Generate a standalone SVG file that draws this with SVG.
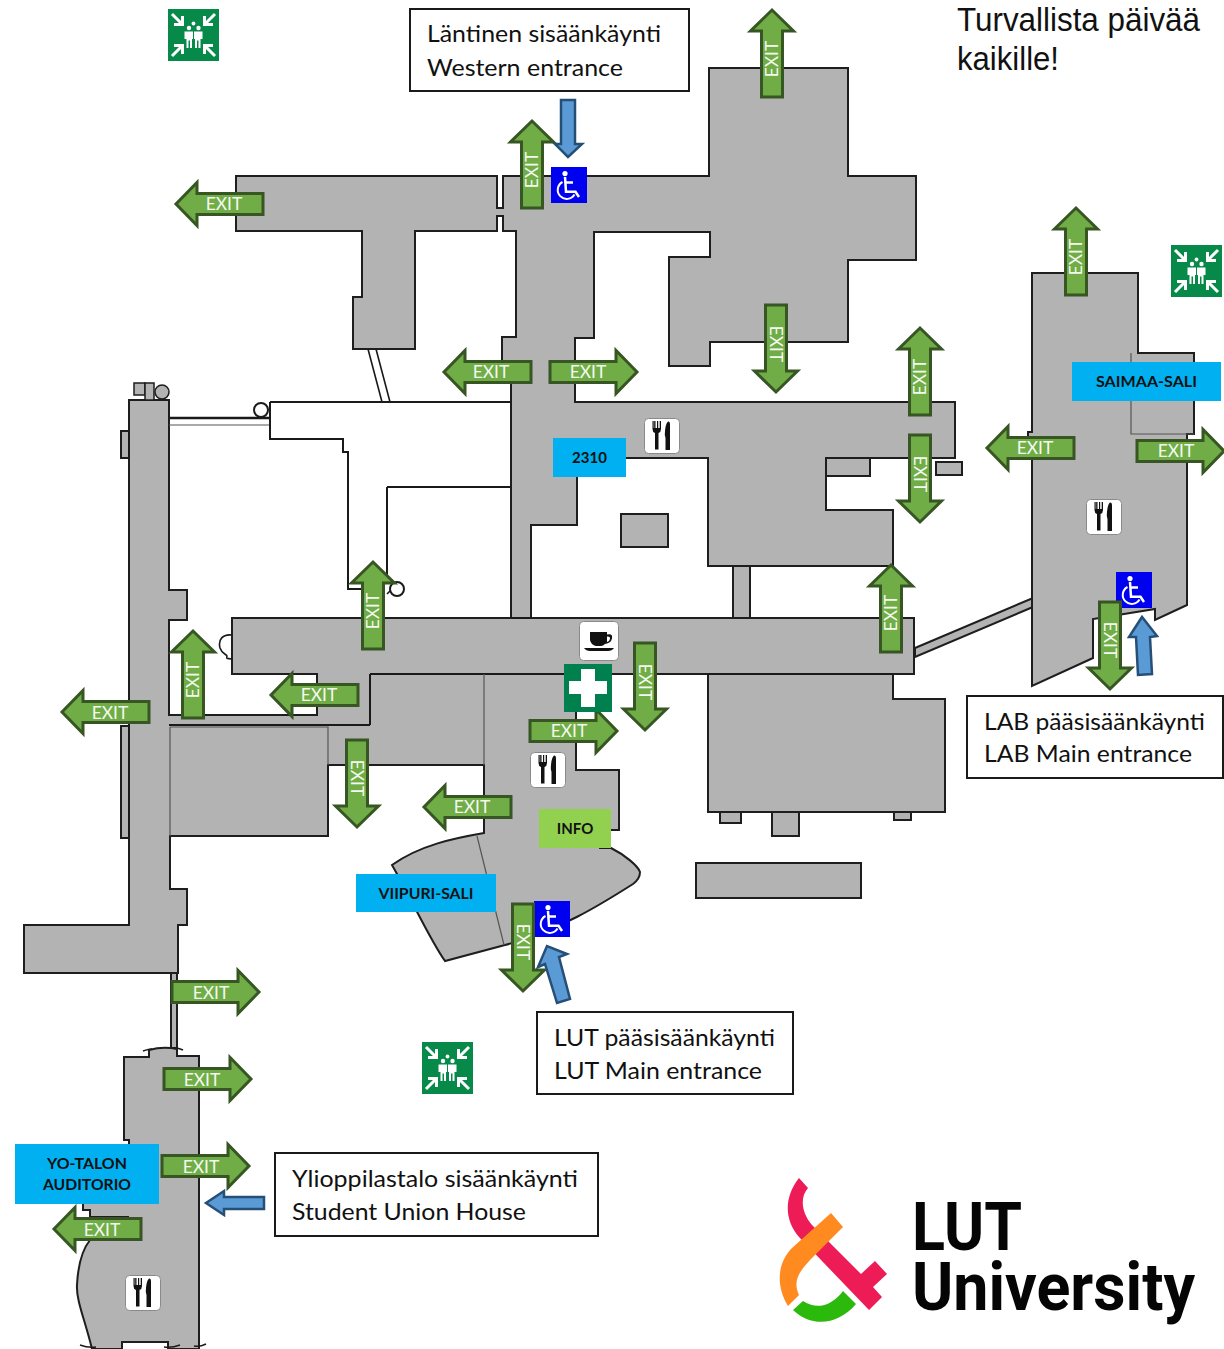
<svg xmlns="http://www.w3.org/2000/svg" width="1224" height="1349" viewBox="0 0 1224 1349">
<style>
.fl{fill:#b3b3b3;stroke:#1e1e1e;stroke-width:2;stroke-linejoin:miter}
.wall{fill:none;stroke:#1a1a1a;stroke-width:2}
.fine{fill:none;stroke:#1a1a1a;stroke-width:1.6}
.thin{fill:none;stroke:#555;stroke-width:1.2}
.ex{fill:#70ad47;stroke:#375623;stroke-width:3}
.ext{font-family:"Lato","Open Sans",sans-serif;font-size:17.5px;fill:#f4f9ef;text-anchor:middle}
.bl{fill:#5b9bd5;stroke:#264f78;stroke-width:2.5}
.box{fill:#fff;stroke:#1a1a1a;stroke-width:2}
.bt{font-family:"Lato","Open Sans",sans-serif;font-size:24px;fill:#111}
.lab{font-family:"Lato","Open Sans",sans-serif;font-weight:700;font-size:15px;fill:#111;text-anchor:middle}
.ttl{font-family:"Liberation Sans",Arial,sans-serif;font-size:33px;fill:#111}
.lg{font-family:"Roboto","Liberation Sans",sans-serif;font-weight:700;fill:#050505}
</style>
<defs>
<path id="ga" d="M0,-10.5H66V-21.5L87,0L66,21.5V10.5H0Z"/>
<g id="wc">
<rect width="36" height="36" fill="#0000f0"/>
<circle cx="14" cy="6.6" r="2.6" fill="#fff"/>
<path d="M14,10L15,24.8H24.5L28,30M14.5,15.5H22" fill="none" stroke="#fff" stroke-width="2.5"/>
<path d="M11.5,15A9,9 0 1 0 23.5,27.5" fill="none" stroke="#fff" stroke-width="2"/>
</g>
<g id="fk">
<rect x=".5" y=".5" width="35" height="35" rx="4" fill="#fff" stroke="#8a8a8a" stroke-width="1"/>
<path d="M8.5,3V11Q8.5,14 11,15V31.5H14.5V15Q17,14 17,11V3H15.7V10H14.2V3H13V10H11.5V3H10.2V10H9.7V3Z" fill="#111"/>
<path d="M21.5,32V20L20.8,17Q21,6 24,3.5Q26,3 26,6V32Z" fill="#111"/>
</g>
<g id="as">
<rect width="51" height="52" fill="#078a49"/>
<g fill="none" stroke="#fff" stroke-width="3">
<g id="aa"><path d="M4,5L14,15M6,15.5H14.5V7"/></g>
<use href="#aa" transform="translate(51,0) scale(-1,1)"/>
<use href="#aa" transform="translate(0,52) scale(1,-1)"/>
<use href="#aa" transform="translate(51,52) scale(-1,-1)"/>
</g>
<g fill="#fff">
<circle cx="25.5" cy="14.5" r="1.9"/><circle cx="21" cy="19" r="2.2"/><circle cx="30.5" cy="19" r="2.2"/>
<path d="M16.5,22.5H25V30H24V39H22V31.5H20.5V39H18.5V30H16.5Z"/>
<path d="M26,22.5H34.5V30H32.5V39H30.5V31.5H29V39H27V30H26Z"/>
</g>
</g>
</defs>
<rect width="1224" height="1349" fill="#fff"/>

<g id="floorplan">
<path class="fl" d="M129,400H169V590H187V620H169V715H317V674H232V618H511V362H502V337H516V231H503V216H497V231H415V349H353V297H362V231H236V176H497V208H503V176H709V68H848V176H916V260H848V342H710V366H669V257H710V232H594V338H575V402H955V458H826V510H893V566H708V458H577V525H531V618H914V674H893V699H945V812H708V674H576V770H619V830H600V848H611C625,855 638,866 640,872C640,878 637,881 633,884C600,905 560,930 505,945L445,961C430,940 412,900 392,865C420,845 455,838 484,833V765H328V836H170V889H187V925H178V973H24V925H129V838H121V726H129V458H121V431H129Z"/>
<rect class="fl" x="733" y="566" width="17" height="52"/>
<path class="fl" d="M915,648L1033,598V607L915,657Z"/>
<rect class="fl" x="826" y="458" width="44" height="18"/>
<rect class="fl" x="621" y="514" width="47" height="33"/>
<rect class="fl" x="696" y="863" width="165" height="35"/>
<rect class="fl" x="720" y="812" width="21" height="11"/>
<rect class="fl" x="772" y="812" width="27" height="24"/>
<rect class="fl" x="894" y="812" width="17" height="8"/>
<rect class="fl" x="936" y="462" width="26" height="13"/>
<path class="fl" d="M1032,273H1138V353H1194V434H1187V605L1155,620V609L1093,619V658L1032,686V437H1028V432H1032Z"/>
<path class="thin" d="M1131,353V434H1194"/>
<rect class="fl" x="171" y="973" width="6" height="75"/>
<path class="fl" d="M124,1057H149V1050Q163,1046 177,1049V1056H199V1349H168V1342H122V1349H92C85,1320 76,1300 77,1285C78,1265 82,1250 90,1240L128,1240V1217H90V1210H83V1150H129V1140H124Z"/>
<path class="fine" d="M143,1051Q149,1049 152,1049M174,1048Q179,1048 183,1050M80,1345Q88,1348 96,1347M164,1347Q172,1348 180,1345M194,1346Q200,1347 206,1344"/>
<path class="wall" d="M512,618H531M370,674H576M708,674H893M370,674V725M169,725H370M129,431V458M129,726V838"/>
<path class="thin" d="M170,727H328V765M170,727V836M484,674V765M477,836L504,945"/>
<path class="wall" style="stroke-width:2.6" d="M169,418H270"/>
<path class="thin" d="M169,425H270"/>
<path class="wall" d="M270,402H511M270,402V439H343V452H348V589H373M387,487H511M387,487V580"/>
<path class="fine" d="M368,349L382,402M376,349L390,402"/>
<path class="fine" d="M232,635C222,634 218,640 220,648C222,654 226,654 227,656C226,660 228,658 232,659M387,594L391,590"/>
<circle class="wall" cx="261" cy="410" r="7"/>
<circle cx="397" cy="589" r="7" fill="#fff" stroke="#1a1a1a" stroke-width="2"/>
<rect class="fl" style="stroke-width:1.5" x="134" y="383" width="11" height="12"/>
<rect class="fl" style="stroke-width:1.5" x="145" y="383" width="9" height="17"/>
<circle class="fl" style="stroke-width:1.5" cx="162" cy="392" r="7"/>
</g>

<g id="signs">
<use id="assembly-1" href="#as" x="168" y="9"/>
<use id="assembly-2" href="#as" x="1171" y="245"/>
<use id="assembly-3" href="#as" x="422" y="1042"/>
<use id="wheelchair-1" href="#wc" x="551" y="167"/>
<use id="wheelchair-2" href="#wc" x="1116" y="572"/>
<use id="wheelchair-3" href="#wc" x="534" y="901"/>
<use id="food-1" href="#fk" x="644" y="418"/>
<use id="food-2" href="#fk" x="1086" y="499"/>
<use id="food-3" href="#fk" x="530" y="752"/>
<use id="food-4" href="#fk" x="125" y="1275"/>
<g id="coffee">
<rect x="579.5" y="621.5" width="39" height="39" rx="4" fill="#fff" stroke="#8a8a8a"/>
<path d="M590,632H607V634.5Q613,633 612,638.5Q611,643 605,644Q603,646 601,646H596Q591,645 590,640ZM607,636.5V642Q610,641 610,638Q610,636 607,636.5Z" fill="#111" fill-rule="evenodd"/>
<path d="M584,648H614Q612,651 608,651H590Q586,651 584,648Z" fill="#111"/>
</g>
</g>

<g id="labels">
<g id="lbl-2310"><rect x="553" y="438" width="73" height="39" fill="#00b0f0"/><text class="lab" x="589.5" y="463">2310</text></g>
<g id="lbl-saimaa"><rect x="1072" y="362" width="149" height="39" fill="#00b0f0"/><text class="lab" x="1146.5" y="387" textLength="101" lengthAdjust="spacingAndGlyphs">SAIMAA-SALI</text></g>
<g id="lbl-viipuri"><rect x="356" y="874" width="140" height="38" fill="#00b0f0"/><text class="lab" x="426" y="899" textLength="95" lengthAdjust="spacingAndGlyphs">VIIPURI-SALI</text></g>
<g id="lbl-yo"><rect x="15" y="1144" width="144" height="60" fill="#00b0f0"/><text class="lab" x="87" y="1169" textLength="80" lengthAdjust="spacingAndGlyphs">YO-TALON</text><text class="lab" x="87" y="1190" textLength="88" lengthAdjust="spacingAndGlyphs">AUDITORIO</text></g>
<g id="lbl-info"><rect x="539" y="809" width="72" height="39" fill="#92d050"/><text class="lab" x="575" y="834">INFO</text></g>
</g>

<g id="connectors">
<g class="exit"><use class="ex" href="#ga" transform="translate(263,204) rotate(180)"/><text class="ext" x="224" y="210">EXIT</text></g>
<g class="exit"><use class="ex" href="#ga" transform="translate(532,208) rotate(-90)"/><text class="ext" transform="translate(532,170) rotate(-90)" y="6">EXIT</text></g>
<g class="exit"><use class="ex" href="#ga" transform="translate(772,97) rotate(-90)"/><text class="ext" transform="translate(772,59) rotate(-90)" y="6">EXIT</text></g>
<g class="exit"><use class="ex" href="#ga" transform="translate(776,305) rotate(90)"/><text class="ext" transform="translate(776,344) rotate(90)" y="6">EXIT</text></g>
<g class="exit"><use class="ex" href="#ga" transform="translate(531,372) rotate(180)"/><text class="ext" x="491" y="378">EXIT</text></g>
<g class="exit"><use class="ex" href="#ga" transform="translate(550,372)"/><text class="ext" x="588" y="378">EXIT</text></g>
<g class="exit"><use class="ex" href="#ga" transform="translate(920,415) rotate(-90)"/><text class="ext" transform="translate(920,377) rotate(-90)" y="6">EXIT</text></g>
<g class="exit"><use class="ex" href="#ga" transform="translate(920,435) rotate(90)"/><text class="ext" transform="translate(920,474) rotate(90)" y="6">EXIT</text></g>
<g class="exit"><use class="ex" href="#ga" transform="translate(1076,295) rotate(-90)"/><text class="ext" transform="translate(1076,257) rotate(-90)" y="6">EXIT</text></g>
<g class="exit"><use class="ex" href="#ga" transform="translate(1074,448) rotate(180)"/><text class="ext" x="1035" y="454">EXIT</text></g>
<g class="exit"><use class="ex" href="#ga" transform="translate(1137,451)"/><text class="ext" x="1176" y="457">EXIT</text></g>
<g class="exit"><use class="ex" href="#ga" transform="translate(1110,602) rotate(90)"/><text class="ext" transform="translate(1110,640) rotate(90)" y="6">EXIT</text></g>
<g class="exit"><use class="ex" href="#ga" transform="translate(891,652) rotate(-90)"/><text class="ext" transform="translate(891,613) rotate(-90)" y="6">EXIT</text></g>
<g class="exit"><use class="ex" href="#ga" transform="translate(373,649) rotate(-90)"/><text class="ext" transform="translate(373,611) rotate(-90)" y="6">EXIT</text></g>
<g class="exit"><use class="ex" href="#ga" transform="translate(193,718) rotate(-90)"/><text class="ext" transform="translate(193,680) rotate(-90)" y="6">EXIT</text></g>
<g class="exit"><use class="ex" href="#ga" transform="translate(358,695) rotate(180)"/><text class="ext" x="319" y="701">EXIT</text></g>
<g class="exit"><use class="ex" href="#ga" transform="translate(149,712) rotate(180)"/><text class="ext" x="110" y="719">EXIT</text></g>
<g class="exit"><use class="ex" href="#ga" transform="translate(645,643) rotate(90)"/><text class="ext" transform="translate(645,682) rotate(90)" y="6">EXIT</text></g>
<g class="exit"><use class="ex" href="#ga" transform="translate(530,731)"/><text class="ext" x="569" y="737">EXIT</text></g>
<g class="exit"><use class="ex" href="#ga" transform="translate(357,740) rotate(90)"/><text class="ext" transform="translate(357,778) rotate(90)" y="6">EXIT</text></g>
<g class="exit"><use class="ex" href="#ga" transform="translate(511,807) rotate(180)"/><text class="ext" x="472" y="813">EXIT</text></g>
<g class="exit"><use class="ex" href="#ga" transform="translate(523,904) rotate(90)"/><text class="ext" transform="translate(523,942) rotate(90)" y="6">EXIT</text></g>
<g class="exit"><use class="ex" href="#ga" transform="translate(172,992)"/><text class="ext" x="211" y="999">EXIT</text></g>
<g class="exit"><use class="ex" href="#ga" transform="translate(164,1079)"/><text class="ext" x="202" y="1086">EXIT</text></g>
<g class="exit"><use class="ex" href="#ga" transform="translate(162,1166)"/><text class="ext" x="201" y="1173">EXIT</text></g>
<g class="exit"><use class="ex" href="#ga" transform="translate(141,1229) rotate(180)"/><text class="ext" x="102" y="1236">EXIT</text></g>
<g id="entrances">
<path class="bl" d="M561,100H575V144H582L568,157L555,144H561Z"/>
<path class="bl" d="M1138,675L1136,637H1129L1142,617L1157,636L1150,637L1152,674Z"/>
<path class="bl" d="M557,1003L545,964L538,967L547,946L567,954L559,957L570,999Z"/>
<path class="bl" d="M264,1197H224V1191L206,1203L224,1215V1209H264Z"/>
</g>
</g>

<g id="first-aid">
<rect x="564" y="664" width="48" height="48" fill="#00804f"/>
<path d="M581,669H595V681H607V694H595V707H581V694H569V681H581Z" fill="#fff"/>
</g>

<g id="text-boxes">
<g id="box-west"><rect class="box" x="410" y="9" width="279" height="82"/><text class="bt" x="427" y="42" textLength="234" lengthAdjust="spacingAndGlyphs">Läntinen sisäänkäynti</text><text class="bt" x="427" y="76" textLength="196" lengthAdjust="spacingAndGlyphs">Western entrance</text></g>
<g id="box-lab"><rect class="box" x="967" y="696" width="256" height="82"/><text class="bt" x="984" y="730" textLength="221" lengthAdjust="spacingAndGlyphs">LAB pääsisäänkäynti</text><text class="bt" x="984" y="762" textLength="208" lengthAdjust="spacingAndGlyphs">LAB Main entrance</text></g>
<g id="box-lut"><rect class="box" x="537" y="1012" width="256" height="82"/><text class="bt" x="554" y="1046" textLength="221" lengthAdjust="spacingAndGlyphs">LUT pääsisäänkäynti</text><text class="bt" x="554" y="1079" textLength="208" lengthAdjust="spacingAndGlyphs">LUT Main entrance</text></g>
<g id="box-yo"><rect class="box" x="275" y="1153" width="323" height="83"/><text class="bt" x="292" y="1187" textLength="286" lengthAdjust="spacingAndGlyphs">Ylioppilastalo sisäänkäynti</text><text class="bt" x="292" y="1220" textLength="234" lengthAdjust="spacingAndGlyphs">Student Union House</text></g>
</g>

<g id="title">
<text class="ttl" x="957" y="31" textLength="243" lengthAdjust="spacingAndGlyphs">Turvallista päivää</text>
<text class="ttl" x="957" y="70" textLength="102" lengthAdjust="spacingAndGlyphs">kaikille!</text>
</g>

<g id="logo">
<path fill="#ee1c56" d="M799,1178L808,1188C800,1197 801,1212 812,1225L861,1274L875,1261L887,1274L873,1287L882,1297L869,1310L799,1237C784,1220 784,1197 799,1178Z"/>
<path fill="#ff8a20" d="M831,1213L843,1227L815,1255C800,1270 792,1280 799,1295L788,1306C775,1285 778,1262 792,1248Z"/>
<path fill="#2bb90b" d="M793,1310L803,1301C815,1309 830,1308 843,1291L856,1304C838,1325 812,1328 793,1310Z"/>
<text class="lg" x="912" y="1250" font-size="67" textLength="110" lengthAdjust="spacingAndGlyphs">LUT</text>
<text class="lg" x="912" y="1310" font-size="67" textLength="283" lengthAdjust="spacingAndGlyphs">University</text>
</g>
</svg>
